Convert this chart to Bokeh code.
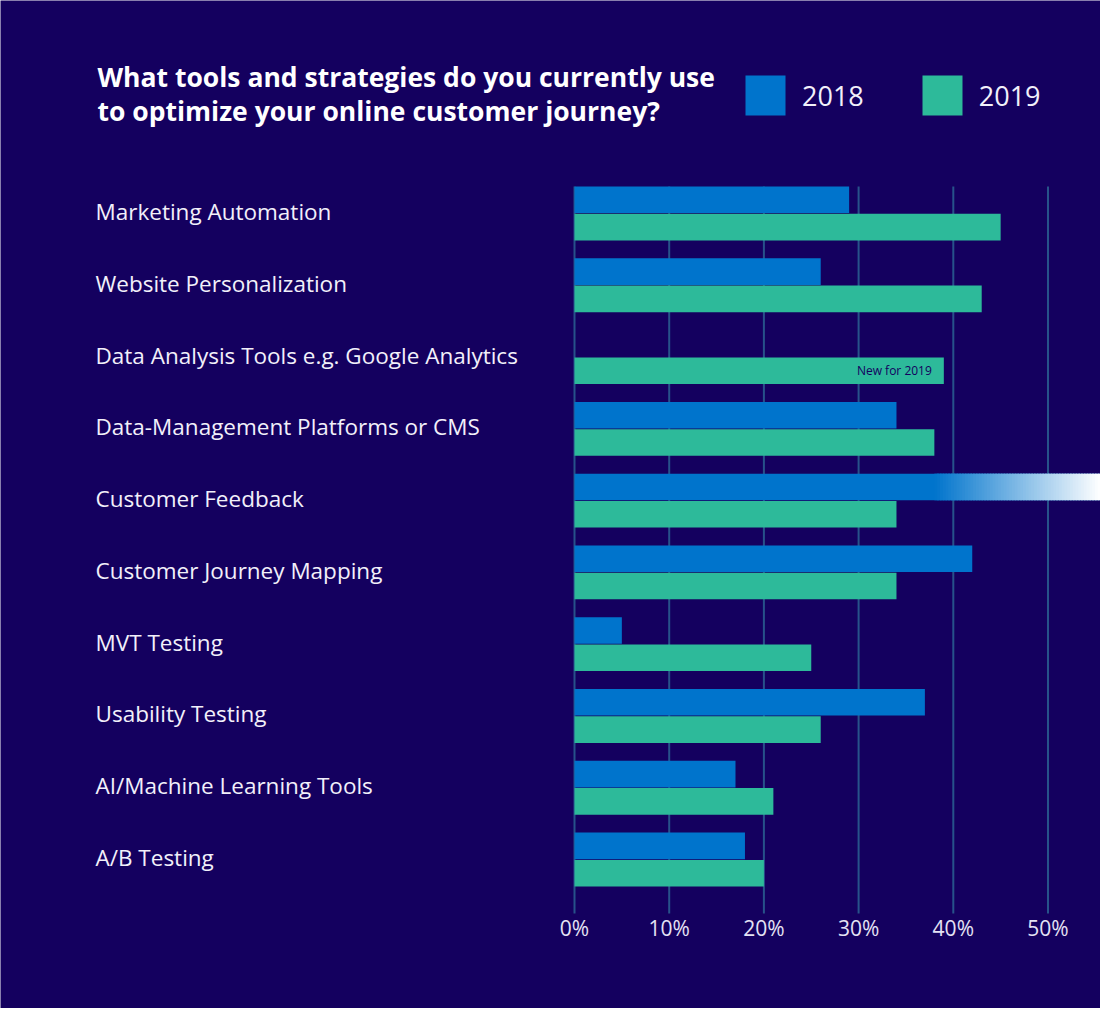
import numpy as np
from bokeh.plotting import figure
from bokeh.models import (Range1d, Label, Legend, LegendItem, ColumnDataSource)
from bokeh.core.properties import value
from bokeh.embed import file_html
from bokeh.resources import INLINE

# ---------------- data ----------------
categories = [
    "Marketing Automation",
    "Website Personalization",
    "Data Analysis Tools e.g. Google Analytics",
    "Data-Management Platforms or CMS",
    "Customer Feedback",
    "Customer Journey Mapping",
    "MVT Testing",
    "Usability Testing",
    "AI/Machine Learning Tools",
    "A/B Testing",
]
values_2018 = [29, 26, float("nan"), 34, 57, 42, 5, 37, 17, 18]
values_2019 = [45, 43, 39, 38, 34, 34, 25, 26, 21, 20]
x_ticks = [0, 10, 20, 30, 40, 50]
x_tick_labels = ["0%", "10%", "20%", "30%", "40%", "50%"]
series_names = ["2018", "2019"]
title_lines = ["What tools and strategies do you currently use",
               "to optimize your online customer journey?"]
note_text = "New for 2019"
note_category = "Data Analysis Tools e.g. Google Analytics"

# ---------------- style / layout ----------------
BG = "#14005f"
C18 = "#0074cc"
C19 = "#2dba9a"
GRID = "#27528a"
TXT = "#f2f0fa"
FONT = "Open Sans"
W, H = 1100, 1008
PX = 9.47                      # pixels per percent
ZERO_X = 574
X_START = -ZERO_X / PX
X_END = (W - ZERO_X) / PX
UNIT = 71.8                    # pixels per category
LAST_Y = 859                   # pixel centre of bottom category
Y_END = 9 + 213 / UNIT
Y_START = -(H - LAST_Y) / UNIT
GRID_BOTTOM = -(913 - LAST_Y) / UNIT
TICK_Y = -(927 - LAST_Y) / UNIT
BAR_H = 0.37
OFF = 0.19
LABEL_X = (95 - ZERO_X) / PX
FADE_START = 38

n = len(categories)
ypos = np.arange(n)[::-1].astype(float)

p = figure(width=W, height=H, output_backend="svg", toolbar_location=None,
           x_range=Range1d(X_START, X_END), y_range=Range1d(Y_START, Y_END),
           x_axis_location=None, y_axis_location=None,
           min_border=0)
p.background_fill_color = BG
p.border_fill_color = BG
p.outline_line_color = None
p.xgrid.visible = False
p.ygrid.visible = False

# grid lines (only over bar area)
top_y = ypos[0] + OFF + BAR_H / 2
p.segment(x0=x_ticks, x1=x_ticks, y0=[GRID_BOTTOM] * len(x_ticks), y1=[top_y] * len(x_ticks),
          line_color=GRID, line_width=2)

# tick labels
p.text(x=x_ticks, y=[TICK_Y] * len(x_ticks), text=x_tick_labels, text_align="center",
       text_baseline="middle", text_font=value(FONT), text_font_size="21px",
       text_color="#e4e2f4")

src = ColumnDataSource(dict(cat=categories, y18=ypos + OFF, y19=ypos - OFF,
                            v18=values_2018, v19=values_2019))
r18 = p.hbar(y="y18", left=0, right="v18", height=BAR_H, source=src,
             fill_color=C18, line_color=None)
r19 = p.hbar(y="y19", left=0, right="v19", height=BAR_H, source=src,
             fill_color=C19, line_color=None)

# fade-out for off-chart values
def hex2rgb(h):
    h = h.lstrip("#")
    return np.array([int(h[i:i + 2], 16) for i in (0, 2, 4)], float)

c0, c1 = hex2rgb(C18), np.array([255.0, 255.0, 255.0])
steps = 60
for v, yy in zip(values_2018, ypos + OFF):
    if np.isfinite(v) and v > x_ticks[-1]:
        end = min(v, X_END)
        edges = np.linspace(FADE_START, end, steps + 1)
        step = edges[1] - edges[0]
        t = (np.arange(steps) + 0.5) / steps
        cols = ["#%02x%02x%02x" % tuple(np.round(c0 + (c1 - c0) * ti).astype(int)) for ti in t]
        p.quad(left=edges[:-1], right=edges[1:] + step * 0.6, bottom=yy - BAR_H / 2,
               top=yy + BAR_H / 2, fill_color=cols, line_color=None)

# category labels
p.text(x=[LABEL_X] * n, y=ypos, text=categories, text_align="left",
       text_baseline="middle", text_font=value(FONT), text_font_size="22.5px",
       y_offset=-2, text_color=TXT)

# note inside bar
ni = categories.index(note_category)
p.text(x=[values_2019[ni]], y=[ypos[ni] - OFF], text=[note_text], x_offset=-12,
       text_align="right", text_baseline="middle", text_font=value(FONT),
       text_font_size="12px", text_color=BG)

# title
for i, t in enumerate(title_lines):
    p.add_layout(Label(x=97, y=H - (76 + 34 * i), x_units="screen",
                       y_units="screen", text=t, text_font=FONT, text_font_size="26.5px",
                       text_font_style="bold", text_color="white",
                       text_baseline="alphabetic"))

# legend
leg = Legend(items=[LegendItem(label=series_names[0], renderers=[r18]),
                    LegendItem(label=series_names[1], renderers=[r19])],
             orientation="horizontal", location=(740, H - 120),
             glyph_width=50, glyph_height=50, label_standoff=12, spacing=53,
             padding=0, margin=0, border_line_color=None, background_fill_alpha=0,
             label_text_font=FONT, label_text_font_size="27px", label_text_color=TXT)
p.add_layout(leg, "center")

open("out.html", "w").write(file_html(p, INLINE))
